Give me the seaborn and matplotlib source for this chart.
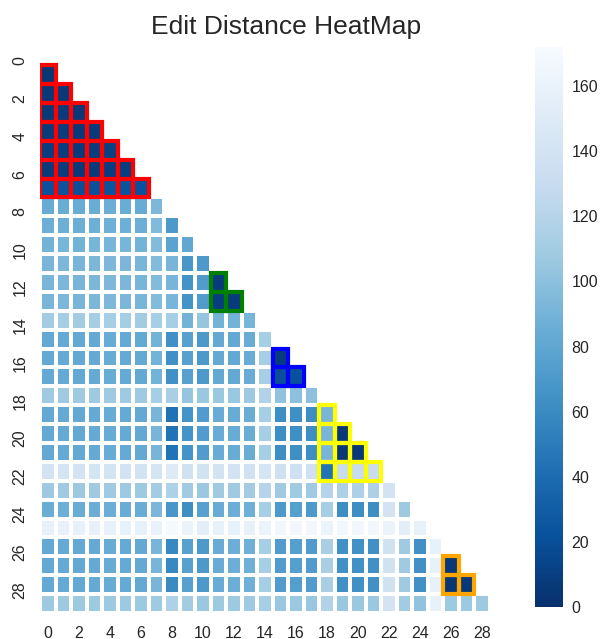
import numpy as np
import pandas as pd
import matplotlib
matplotlib.use("Agg")
import matplotlib.pyplot as plt
import matplotlib.transforms as mtransforms
from matplotlib.patches import Rectangle
import seaborn as sns

# Pairwise edit distances, lower triangle only (row i holds columns 0..i-1)
dist_rows = [
    [],
    [5],
    [6, 7],
    [7, 8, 6],
    [8, 9, 7, 8],
    [9, 10, 8, 9, 12],
    [8, 9, 7, 8, 10, 9],
    [22, 23, 21, 22, 24, 23, 22],
    [84, 85, 84, 85, 86, 85, 84, 94],
    [86, 87, 86, 87, 88, 87, 86, 95, 70],
    [90, 91, 90, 91, 92, 91, 90, 96, 78, 80],
    [92, 93, 92, 93, 94, 93, 92, 96, 92, 68, 70],
    [92, 93, 92, 93, 94, 93, 92, 96, 92, 66, 72, 8],
    [92, 93, 92, 93, 94, 93, 92, 96, 92, 66, 72, 9, 8],
    [110, 111, 110, 111, 112, 111, 110, 112, 112, 90, 104, 90, 90, 91],
    [82, 83, 82, 83, 84, 83, 82, 90, 64, 76, 70, 82, 82, 84, 112],
    [82, 83, 82, 83, 84, 83, 82, 90, 64, 76, 70, 82, 82, 84, 112, 8],
    [82, 83, 82, 83, 84, 83, 82, 90, 64, 76, 70, 82, 82, 84, 112, 20, 22],
    [108, 108, 108, 108, 108, 108, 108, 112, 114, 104, 106, 106, 106, 107, 118, 102, 100, 100],
    [82, 83, 82, 83, 84, 83, 82, 92, 43, 66, 72, 84, 84, 85, 112, 62, 63, 62, 92],
    [82, 83, 82, 83, 84, 83, 82, 92, 44, 66, 72, 84, 84, 85, 112, 62, 63, 62, 92, 6],
    [82, 83, 82, 83, 84, 83, 82, 92, 44, 66, 72, 84, 84, 85, 112, 62, 63, 62, 92, 5, 6],
    [140, 141, 140, 141, 141, 140, 140, 143, 150, 138, 139, 140, 140, 138, 142, 136, 136, 137, 44, 130, 130, 130],
    [107, 108, 107, 108, 108, 107, 107, 110, 116, 109, 106, 108, 108, 110, 120, 108, 108, 108, 120, 115, 115, 115, 140],
    [85, 86, 85, 86, 86, 85, 85, 93, 68, 62, 76, 84, 86, 88, 112, 70, 75, 70, 112, 62, 62, 62, 140, 107],
    [158, 159, 158, 159, 159, 158, 158, 160, 170, 162, 154, 158, 158, 159, 162, 166, 166, 166, 162, 166, 166, 166, 162, 155, 158],
    [82, 83, 82, 83, 84, 83, 82, 92, 58, 76, 70, 84, 86, 88, 112, 72, 74, 72, 114, 64, 64, 64, 138, 108, 64, 158],
    [82, 83, 82, 83, 84, 83, 82, 92, 58, 76, 70, 84, 86, 88, 112, 72, 74, 72, 114, 64, 64, 64, 138, 108, 64, 158, 6],
    [82, 83, 82, 83, 84, 83, 82, 92, 60, 76, 70, 84, 86, 88, 112, 72, 74, 72, 114, 64, 64, 64, 138, 108, 64, 158, 5, 6],
    [107, 107, 107, 107, 107, 107, 107, 108, 116, 110, 106, 107, 107, 108, 112, 105, 106, 105, 118, 106, 106, 106, 140, 110, 102, 158, 107, 107, 107],
]

# Groups of near-duplicate strings and the outline colour for each
cluster_members = [
    [0, 1, 2, 3, 4, 5, 6, 7],
    [11, 12, 13],
    [15, 16, 17],
    [18, 19, 20, 21, 22],
    [26, 27, 28],
]
cluster_colors = ["red", "green", "blue", "yellow", "orange"]

n = len(dist_rows)
dist = np.zeros((n, n))
for i, row in enumerate(dist_rows):
    for j, v in enumerate(row):
        dist[i, j] = v
        dist[j, i] = v
df = pd.DataFrame(dist)
mask = np.triu(np.ones((n, n), dtype=bool))

sns.set_style("white")
plt.rcParams["font.family"] = ["Liberation Sans", "DejaVu Sans"]

fig = plt.figure(figsize=(6.03, 6.39), dpi=100)
W, H = 603, 639
ax = fig.add_axes([40 / W, 1 - 613 / H, 465 / W, 566.6 / H])
cax = fig.add_axes([535 / W, 1 - 607 / H, 28 / W, 560 / H])

sns.heatmap(df, mask=mask, cmap="Blues_r", vmin=0, vmax=172,
            linewidths=1.5, linecolor="white",
            xticklabels=2, yticklabels=2,
            ax=ax, cbar_ax=cax)

for members, color in zip(cluster_members, cluster_colors):
    for i in members:
        for j in members:
            if j < i:
                ax.add_patch(Rectangle((j, i), 1, 1, fill=False,
                                       edgecolor=color, lw=3, zorder=3))

ax.tick_params(axis="both", labelsize=11.5, colors="#262626", length=0, pad=9)
plt.setp(ax.get_xticklabels(), rotation=0)
# vertical row labels sit slightly below the row centres
shift = mtransforms.ScaledTranslation(0, -5 / 100, fig.dpi_scale_trans)
for lab in ax.get_yticklabels():
    lab.set_rotation(90)
    lab.set_transform(lab.get_transform() + shift)
cax.tick_params(labelsize=11.5, colors="#262626", length=0, pad=6)
cax.set_yticks([0, 20, 40, 60, 80, 100, 120, 140, 160])

ax.set_title("Edit Distance HeatMap", fontsize=19, color="#262626", pad=9, x=0.529)

fig.savefig("out.png", dpi=100)
